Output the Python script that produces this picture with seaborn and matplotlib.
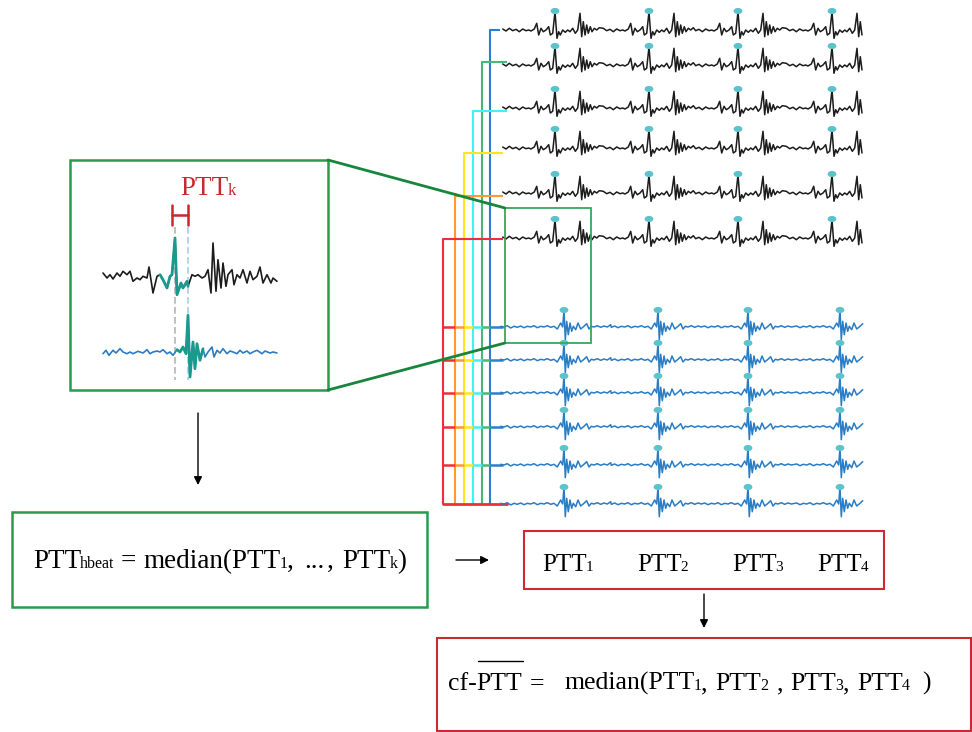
import numpy as np
import pandas as pd
import matplotlib
matplotlib.use("Agg")
import matplotlib.pyplot as plt
import seaborn as sns
from matplotlib.patches import Rectangle
from matplotlib.path import Path

# ---------------- data ----------------
BLACK_ROWS = [30, 65, 108, 148, 193, 238]          # baselines of SCG-like traces
BLUE_ROWS = [327, 360, 393, 427, 465, 504]         # baselines of PPG-like traces
BLACK_PEAKS = [555, 649, 738, 832]
BLUE_PEAKS = [564, 658, 748, 840]
TRACE_START, TRACE_END = 500, 863

# one-beat templates (offset from the peak, amplitude upward)
BLACK_DX = [-55.7, -52.3, -49, -45.7, -42.3, -39, -35.7, -32.3, -29, -26.3, -24, -20.7, -18.3, -16.3,
            -14, -11.7, -9, -6.3, -4.7, -2.3, 0, 2, 3.7, 5.3, 7.7, 10.3, 12.7, 15, 17.7, 20.3, 22.7,
            25, 26.7, 28.3, 30, 31.7, 33.3, 35.3, 37, 39.3, 41.7, 44.3, 47.7, 51, 54.3, 57.7, 61]
BLACK_AMP = [0, 1, -1, 1.7, -0.7, 0.7, -1.7, 1, -0.7, 0, -1, 1, 6.7, -5,
             1.7, -1.7, 0, 3.3, -5, -3.3, 18.3, -8.3, -1.7, -5, 0, -2.3, 0, -1.7, 1.7, -3.3, 0,
             16.7, -6.7, 8.3, -5, 5, -3.3, 3.3, -1.7, 1.7, 0, 2.3, 0, 1, -1, 1.7, -0.7]
BLUE_DX = [-63.3, -60, -56.7, -53.3, -50, -46.7, -43.3, -40, -36.7, -33.3, -30, -26.7, -23.3, -20,
           -16.7, -13.3, -10, -6.7, -3.3, -1.3, 0, 1.3, 2.7, 4.3, 6, 7.7, 9.3, 11.7, 14, 16.7, 20,
           22.7, 25, 27.3, 30, 33.3, 36.7, 40, 43.3, 46.7, 50, 53.3, 56.7]
BLUE_AMP = [0.7, 0, 1.3, -1, 0.7, -0.3, 1, -0.7, 0.7, 0, 1.3, -0.7, 0.7, 0,
            1.3, -0.3, 0.7, -2, 4, 0, 17.3, -12.7, 5.7, -7.7, 4, -4.3, 0.7, -2.7, 4, -2, 0.7,
            3.3, -2, 0.7, 0, 1.3, -0.3, 1, 0, 2.3, 1.3, 3, 0.7]

# magnified snippet in the left box
ZOOM_BLACK_X = [103, 107, 110, 113, 117, 120, 123, 127, 130, 133, 137, 140, 143, 147, 149, 153, 157,
                160, 163, 167, 170, 172, 175, 177, 181, 183, 187, 188, 192, 195, 198, 202, 205, 208,
                211, 213, 216, 218, 221, 223, 226, 228, 232, 234, 237, 240, 243, 247, 250, 253, 257,
                260, 263, 267, 271, 273, 277]
ZOOM_BLACK_AMP = [5, 0, 3.3, -1, 5, 1.7, 6.7, 3.3, 6.7, -3.3, 0, -1.7, 1.7, 0, 11, -15, 1.7,
                  3.3, -1.7, -10, 1.7, 3.3, 40, -16.7, -5, -10, -3.3, -8.3, 3.3, 1.7, 3.3, 0, 1.7, 8.3,
                  -15, 35, -13.3, 18.3, -10, 15, -8.3, 3.3, 8.3, -6.7, 3.3, 0, 8.3, -5, 6.7, -1.7, 1.7,
                  11, -5, 3.3, -5, 0, -3.3]
ZOOM_BLUE_X = [103, 106, 109, 113, 116, 120, 123, 127, 130, 133, 138, 143, 147, 150, 153, 157, 160,
               163, 167, 170, 173, 177, 180, 183, 186, 188, 190, 193, 195, 197, 200, 203, 205, 208,
               212, 214, 217, 220, 223, 227, 230, 233, 237, 240, 243, 247, 250, 253, 257, 262, 265,
               270, 273, 277]
ZOOM_BLUE_AMP = [-1.7, 1.7, -3.3, 1.7, -1, 3.3, 0, -1.7, 0, -1.7, 0.7, -1, 2.3, -1.7, 0, 1, 0,
                 2.3, -1.7, 0, -3.3, 2.3, 0, 5, -1.7, 36.7, -25, 10, -16.7, 8.3, -8.3, 3.3, -5, 0,
                 5, -5, 1.7, -1, 3.3, -1.7, 1, 0, -1.7, 1.7, -1, 1, -1.7, 0, 1.7, -1.7, 1,
                 -1, 0, -1]
ZOOM_BLACK_BASE, ZOOM_BLUE_BASE = 278, 352
TEAL_BLACK_RANGE = (160, 188)
TEAL_BLUE_RANGE = (175, 203)

CONNECT_COLORS = ["#2a7fd0", "#45b87a", "#3ef2f5", "#ffe41f", "#ff9a30", "#ec2f3c"]
CONNECT_X = [490, 482, 473, 464, 455, 443]
CONNECT_TOP = [30, 62, 111, 153, 196, 239]
CONNECT_END = [500, 507, 507, 503, 503, 503]
CONNECT_BOTTOM = 504

PTT_LABELS = ["1", "2", "3", "4"]
PTT_X = [542, 637, 732, 817]

SERIF = ["Liberation Serif", "DejaVu Serif"]

# ---------------- figure ----------------
sns.set_theme(style="white")
plt.rcParams["font.family"] = SERIF

fig = plt.figure(figsize=(9.72, 7.32), dpi=100)
ax = fig.add_axes([0, 0, 1, 1])
ax.set_xlim(0, 972)
ax.set_ylim(732, 0)
ax.axis("off")


def build_trace(peaks, tdx, tamp):
    bounds = [TRACE_START] + [(a + b) / 2 for a, b in zip(peaks[:-1], peaks[1:])] + [TRACE_END]
    xs, amps = [], []
    for i, p in enumerate(peaks):
        lo, hi = bounds[i], bounds[i + 1]
        for dx, a in zip(tdx, tamp):
            x = p + dx
            if lo <= x <= hi:
                xs.append(x)
                amps.append(a)
    return np.array(xs), np.array(amps)


bx, bamp = build_trace(BLACK_PEAKS, BLACK_DX, BLACK_AMP)
ux, uamp = build_trace(BLUE_PEAKS, BLUE_DX, BLUE_AMP)

ell = np.linspace(0, 2 * np.pi, 30)
ELLIPSE = Path(np.column_stack([np.cos(ell), 0.7 * np.sin(ell)]))

# connector lines (behind traces)
for c, x, top, end in zip(CONNECT_COLORS, CONNECT_X, CONNECT_TOP, CONNECT_END):
    ax.plot([end, x, x], [top, top, CONNECT_BOTTOM], color=c, lw=1.5, solid_capstyle="butt", zorder=1)
ax.plot([443, 507], [CONNECT_BOTTOM, CONNECT_BOTTOM], color=CONNECT_COLORS[-1], lw=2.0, zorder=2)
order = sorted(zip(CONNECT_X, CONNECT_COLORS))
seg_x = [o[0] for o in order] + [503]
for yb in BLUE_ROWS[:-1]:
    for j in range(len(order)):
        ax.plot([seg_x[j], seg_x[j + 1]], [yb, yb], color=order[j][1], lw=1.8, solid_capstyle="butt", zorder=2)

# traces
for b in BLACK_ROWS:
    sns.lineplot(x=bx, y=b - bamp, ax=ax, color="#1c1c1c", lw=1.1, estimator=None, sort=False, zorder=3)
    sns.scatterplot(x=BLACK_PEAKS, y=[b - 19] * len(BLACK_PEAKS), ax=ax, marker=ELLIPSE, s=40,
                    color="#5cc3cc", edgecolor="none", zorder=4)
for b in BLUE_ROWS:
    sns.lineplot(x=ux, y=b - uamp, ax=ax, color="#2a7cc4", lw=1.1, estimator=None, sort=False, zorder=3)
    sns.scatterplot(x=BLUE_PEAKS, y=[b - 17] * len(BLUE_PEAKS), ax=ax, marker=ELLIPSE, s=40,
                    color="#5cc3cc", edgecolor="none", zorder=4)

# zoom rectangle and connectors
GREEN = "#3aa65c"
ax.add_patch(Rectangle((505, 208), 86, 135, fill=False, ec=GREEN, lw=1.3, zorder=5))
ax.plot([328, 505], [160, 208], color="#17863c", lw=2.0, zorder=6)
ax.plot([328, 505], [390, 343], color="#17863c", lw=2.0, zorder=6)
ax.add_patch(Rectangle((70, 160), 258, 230, fill=False, ec="#2a9a4c", lw=1.8, zorder=5))

# magnified snippet
zbx = np.array(ZOOM_BLACK_X, float); zba = np.array(ZOOM_BLACK_AMP, float)
zux = np.array(ZOOM_BLUE_X, float); zua = np.array(ZOOM_BLUE_AMP, float)
ax.plot([175, 175], [227, 380], color="#b5b5b5", lw=1.2, ls=(0, (4, 2)), zorder=3)
ax.plot([188, 188], [227, 380], color="#a8cce6", lw=1.2, ls=(0, (4, 2)), zorder=3)
sns.lineplot(x=zbx, y=ZOOM_BLACK_BASE - zba, ax=ax, color="#1c1c1c", lw=1.2, estimator=None, sort=False, zorder=4)
sns.lineplot(x=zux, y=ZOOM_BLUE_BASE - zua, ax=ax, color="#2a7cc4", lw=1.2, estimator=None, sort=False, zorder=4)
m = (zbx >= TEAL_BLACK_RANGE[0]) & (zbx <= TEAL_BLACK_RANGE[1])
ax.plot(zbx[m], ZOOM_BLACK_BASE - zba[m], color="#1a9a8c", lw=2.0, zorder=5)
m = (zux >= TEAL_BLUE_RANGE[0]) & (zux <= TEAL_BLUE_RANGE[1])
ax.plot(zux[m], ZOOM_BLUE_BASE - zua[m], color="#1a9a8c", lw=2.0, zorder=5)

RED = "#c8282f"
ax.plot([172, 172], [205, 225], color=RED, lw=1.8)
ax.plot([188, 188], [205, 225], color=RED, lw=1.8)
ax.plot([172, 188], [215, 215], color=RED, lw=1.8)

renderer = fig.canvas.get_renderer()


def chain(x, y, pieces, color="black"):
    objs = []
    cur = x
    for txt, size, gap in pieces:
        cur += gap
        t = ax.text(cur, y, txt, fontsize=size, va="baseline", ha="left", color=color, zorder=8)
        w = t.get_window_extent(renderer).width
        objs.append((t, cur, cur + w))
        cur += w
    return objs, cur


chain(180, 195, [("PTT", 19.5, 0), ("k", 12, -1)], color=RED)

# bottom-left box
ax.add_patch(Rectangle((12, 512), 415, 95, fill=False, ec="#2a9a4c", lw=1.8))
chain(33, 568, [("PTT", 19.5, 0), ("hbeat", 11.5, -1), ("=", 19.5, 6), ("median(PTT", 19.5, 7),
                ("1", 11.5, -1), (",", 19.5, 0), ("...", 19.5, 10), (",", 19.5, 3), ("PTT", 19.5, 8),
                ("k", 11.5, -1), (")", 19.5, 0)])

# PTT box
ax.add_patch(Rectangle((524, 531), 360, 58, fill=False, ec="#cc2a33", lw=1.5))
for x0, lab in zip(PTT_X, PTT_LABELS):
    chain(x0, 571, [("PTT", 18, 0), (lab, 11, -1)])

# bottom red box
ax.add_patch(Rectangle((437, 638), 534, 93, fill=False, ec="#cc2a33", lw=1.5))
objs, _ = chain(448, 690, [("cf-", 18.5, 0), ("PTT", 18.5, 0), ("=", 18.5, 7), ("median(PTT", 18.5, 20),
                           ("1", 11.5, -1), (",", 18.5, 0), ("PTT", 18.5, 8), ("2", 11.5, -1), (",", 18.5, 8),
                           ("PTT", 18.5, 7), ("3", 11.5, -1), (",", 18.5, 0), ("PTT", 18.5, 8),
                           ("4", 11.5, -1), (")", 18.5, 12)])
_, xa, xb = objs[1]
ax.plot([xa + 1, xb], [661, 661], color="black", lw=1.0)

# arrows
ap = dict(arrowstyle="-|>", color="black", lw=1.0, mutation_scale=12, shrinkA=0, shrinkB=0)
ax.annotate("", xy=(198, 485), xytext=(198, 413), arrowprops=ap)
ax.annotate("", xy=(489, 560), xytext=(456, 560), arrowprops=ap)
ax.annotate("", xy=(704, 628), xytext=(704, 594), arrowprops=ap)

fig.savefig("out.png", dpi=100)
